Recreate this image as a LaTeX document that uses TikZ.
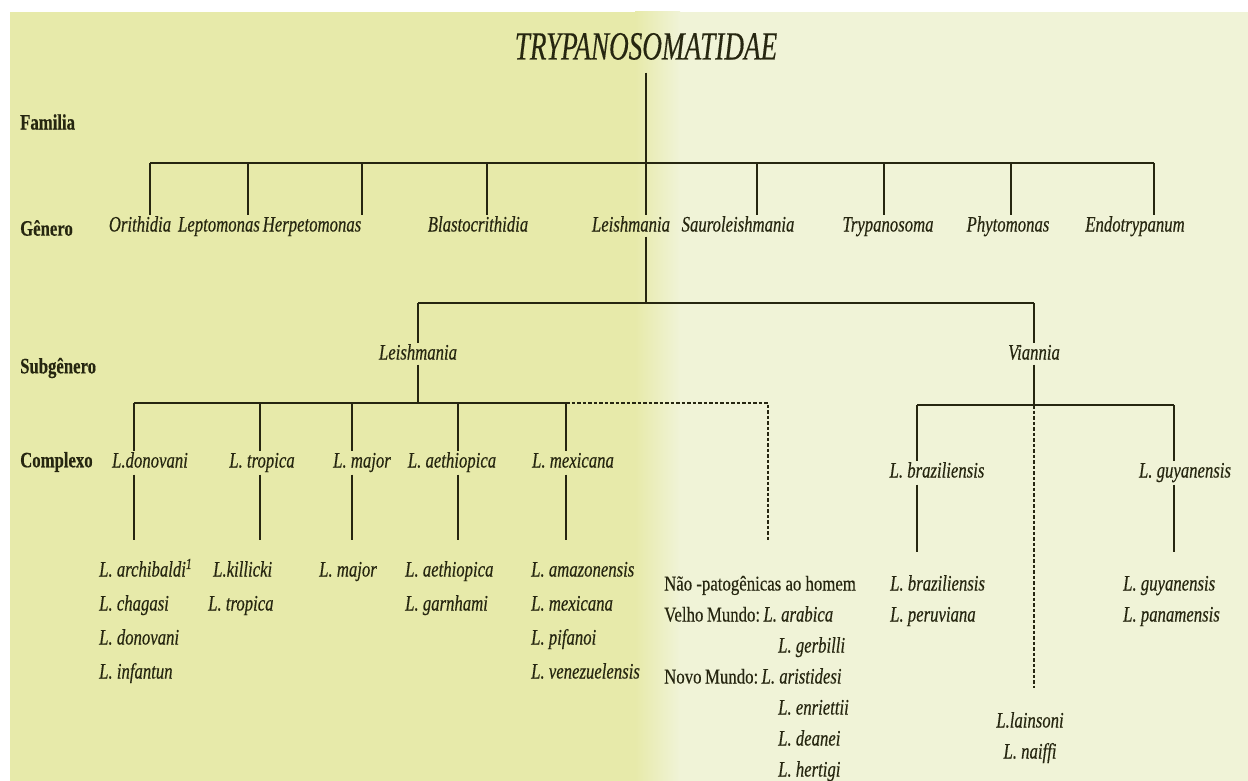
\documentclass[tikz,border=0pt]{standalone}
\usepackage{fontspec}
\setmainfont{Liberation Serif}
\newfontfamily\narrow[FakeStretch=0.76,FakeBold=0.4]{Liberation Serif}
\newfontfamily\plainfont[FakeStretch=0.8,FakeBold=0.3]{Liberation Serif}
\newfontfamily\titlefont[FakeStretch=0.68,FakeBold=0.3]{Liberation Serif}
\usetikzlibrary{positioning}
\definecolor{leftbg}{RGB}{231,234,170}
\definecolor{rightbg}{RGB}{240,243,215}
\definecolor{ink}{RGB}{38,38,16}
\tikzset{
  taxon/.style={font=\narrow\itshape\fontsize{22}{22}\selectfont, text=ink,
    inner sep=1pt, text height=15pt, text depth=4pt},
  plain/.style={taxon, font=\plainfont\fontsize{21}{21}\selectfont, anchor=west},
  species/.style={taxon, anchor=west},
  rank/.style={font=\narrow\bfseries\fontsize{22}{22}\selectfont, text=ink,
    anchor=west, inner sep=0pt},
  branch/.style={draw=ink, line width=1.7pt},
  bar/.style={draw=ink, line width=2.8pt},
  unsure/.style={draw=ink, line width=1.7pt, dash pattern=on 3.5pt off 2pt},
}
\begin{document}
\begin{tikzpicture}[x=1pt,y=-1pt]
  % background
  \fill[white] (0,0) rectangle (1248,781);
  \fill[leftbg] (10,12) rectangle (636,781);
  \shade[left color=leftbg, right color=rightbg] (635,12) rectangle (680,781);
  \fill[rightbg] (679,12) rectangle (1248,781);
  \useasboundingbox (0,0) rectangle (1248,781);

  % ranks
  \node[rank] (famlabel) at (20,122) {Familia};
  \node[rank] (genlabel) at (20,228) {Gênero};
  \node[rank] (sublabel) at (20,368) {Subgênero};
  \node[rank] (cpxlabel) at (20,462) {Complexo};

  % family and genera
  \node[taxon, font=\titlefont\itshape\fontsize{40}{40}\selectfont, text height=27pt, text depth=0pt]
    (family) at (646,46) {TRYPANOSOMATIDAE};
  \foreach \n/\x/\t in {orith/140/Orithidia, lepto/219/Leptomonas, herpe/312/Herpetomonas,
      blast/478/Blastocrithidia, leish/631/Leishmania, sauro/738/Sauroleishmania,
      trypa/888/Trypanosoma, phyto/1008/Phytomonas, endo/1135/Endotrypanum}
    \node[taxon] (\n) at (\x,226) {\t};
  \foreach \n/\x in {orith/150, lepto/248, herpe/362, blast/487, leish/646,
      sauro/757, trypa/884, phyto/1011, endo/1154}
  {
    \coordinate (d\n) at (\x,163);
    \draw[branch] (d\n) -- (d\n |- \n.north);
  }
  \draw[branch] ([yshift=-12pt]family.south) -- (dleish);
  \draw[bar] (dorith) -- (dendo);

  % subgenera
  \coordinate (sub) at (646,303);
  \node[taxon] (sleish) at (418,354) {Leishmania};
  \node[taxon] (vian) at (1034,354) {Viannia};
  \draw[branch] (dleish |- leish.south) -- (sub);
  \draw[bar] (sleish |- sub) -- (vian |- sub);
  \draw[branch] (sleish |- sub) -- (sleish);
  \draw[branch] (vian |- sub) -- (vian);

  % complexes, subgenus Leishmania
  \node[taxon] (cdon) at (150,462) {L.donovani};
  \node[taxon] (ctro) at (262,462) {L. tropica};
  \node[taxon] (cmaj) at (362,462) {L. major};
  \node[taxon] (caet) at (452,462) {L. aethiopica};
  \node[taxon] (cmex) at (573,462) {L. mexicana};
  \foreach \n/\x in {cdon/134, ctro/260, cmaj/352, caet/458, cmex/566}
  {
    \coordinate (j\n) at (\x,403);
    \draw[branch] (j\n) -- (j\n |- \n.north);
    \draw[branch] (j\n |- \n.south) ++(0,2) -- (\x,540);
  }
  \draw[branch] (sleish) -- (sleish |- jcdon);
  \draw[bar] (jcdon) -- (jcmex);
  \coordinate (jnp) at (768,403);
  \coordinate (enp) at (768,540);
  \draw[unsure] (jcmex) -- (jnp) -- (enp);

  % complexes, subgenus Viannia
  \node[taxon] (cbra) at (937,472) {L. braziliensis};
  \node[taxon] (cguy) at (1185,472) {L. guyanensis};
  \coordinate (jcbra) at (917,405);
  \coordinate (jcguy) at (1174,405);
  \coordinate (jvian) at (1034,405);
  \draw[branch] (vian) -- (jvian);
  \draw[branch] (jcbra) -- (jcguy);
  \draw[branch] (jcbra) -- (jcbra |- cbra.north);
  \draw[branch] (jcguy) -- (jcguy |- cguy.north);
  \draw[branch] (jcbra |- cbra.south) ++(0,2) -- (917,552);
  \draw[branch] (jcguy |- cguy.south) ++(0,2) -- (1174,552);
  \coordinate (elain) at (1034,688);
  \draw[unsure] (jvian) -- (elain);

  % species
  \node[species] (arch) at (98,571) {L. archibaldi\textsuperscript{1}};
  \node[species] (chag) at (98,605) {L. chagasi};
  \node[species] (dono) at (98,639) {L. donovani};
  \node[species] (infa) at (98,673) {L. infantun};
  \node[species] (kill) at (212,571) {L.killicki};
  \node[species] (trop) at (207,605) {L. tropica};
  \node[species] (majo) at (318,571) {L. major};
  \node[species] (aeth) at (404,571) {L. aethiopica};
  \node[species] (garn) at (404,605) {L. garnhami};
  \node[species] (amaz) at (530,571) {L. amazonensis};
  \node[species] (mexi) at (530,605) {L. mexicana};
  \node[species] (pifa) at (530,639) {L. pifanoi};
  \node[species] (vene) at (530,673) {L. venezuelensis};

  \node[plain] (naopat) at (663,585) {Não -patogênicas ao homem};
  \node[plain] (velho) at (663,616) {Velho\,Mundo:};
  \node[species, right=1pt of velho] (arab) {L. arabica};
  \node[species] (gerb) at (777,647) {L. gerbilli};
  \node[plain] (novo) at (663,678) {Novo\,Mundo:};
  \node[species, right=1pt of novo] (aris) {L. aristidesi};
  \node[species] (enri) at (777,709) {L. enriettii};
  \node[species] (dean) at (777,740) {L. deanei};
  \node[species] (hert) at (777,771) {L. hertigi};

  \node[species] (braz) at (889,585) {L. braziliensis};
  \node[species] (peru) at (889,616) {L. peruviana};
  \node[species] (guya) at (1122,585) {L. guyanensis};
  \node[species] (pana) at (1122,616) {L. panamensis};
  \node[taxon] (lain) at (1030,722) {L.lainsoni};
  \node[taxon] (naif) at (1030,753) {L. naiffi};
\end{tikzpicture}
\end{document}
